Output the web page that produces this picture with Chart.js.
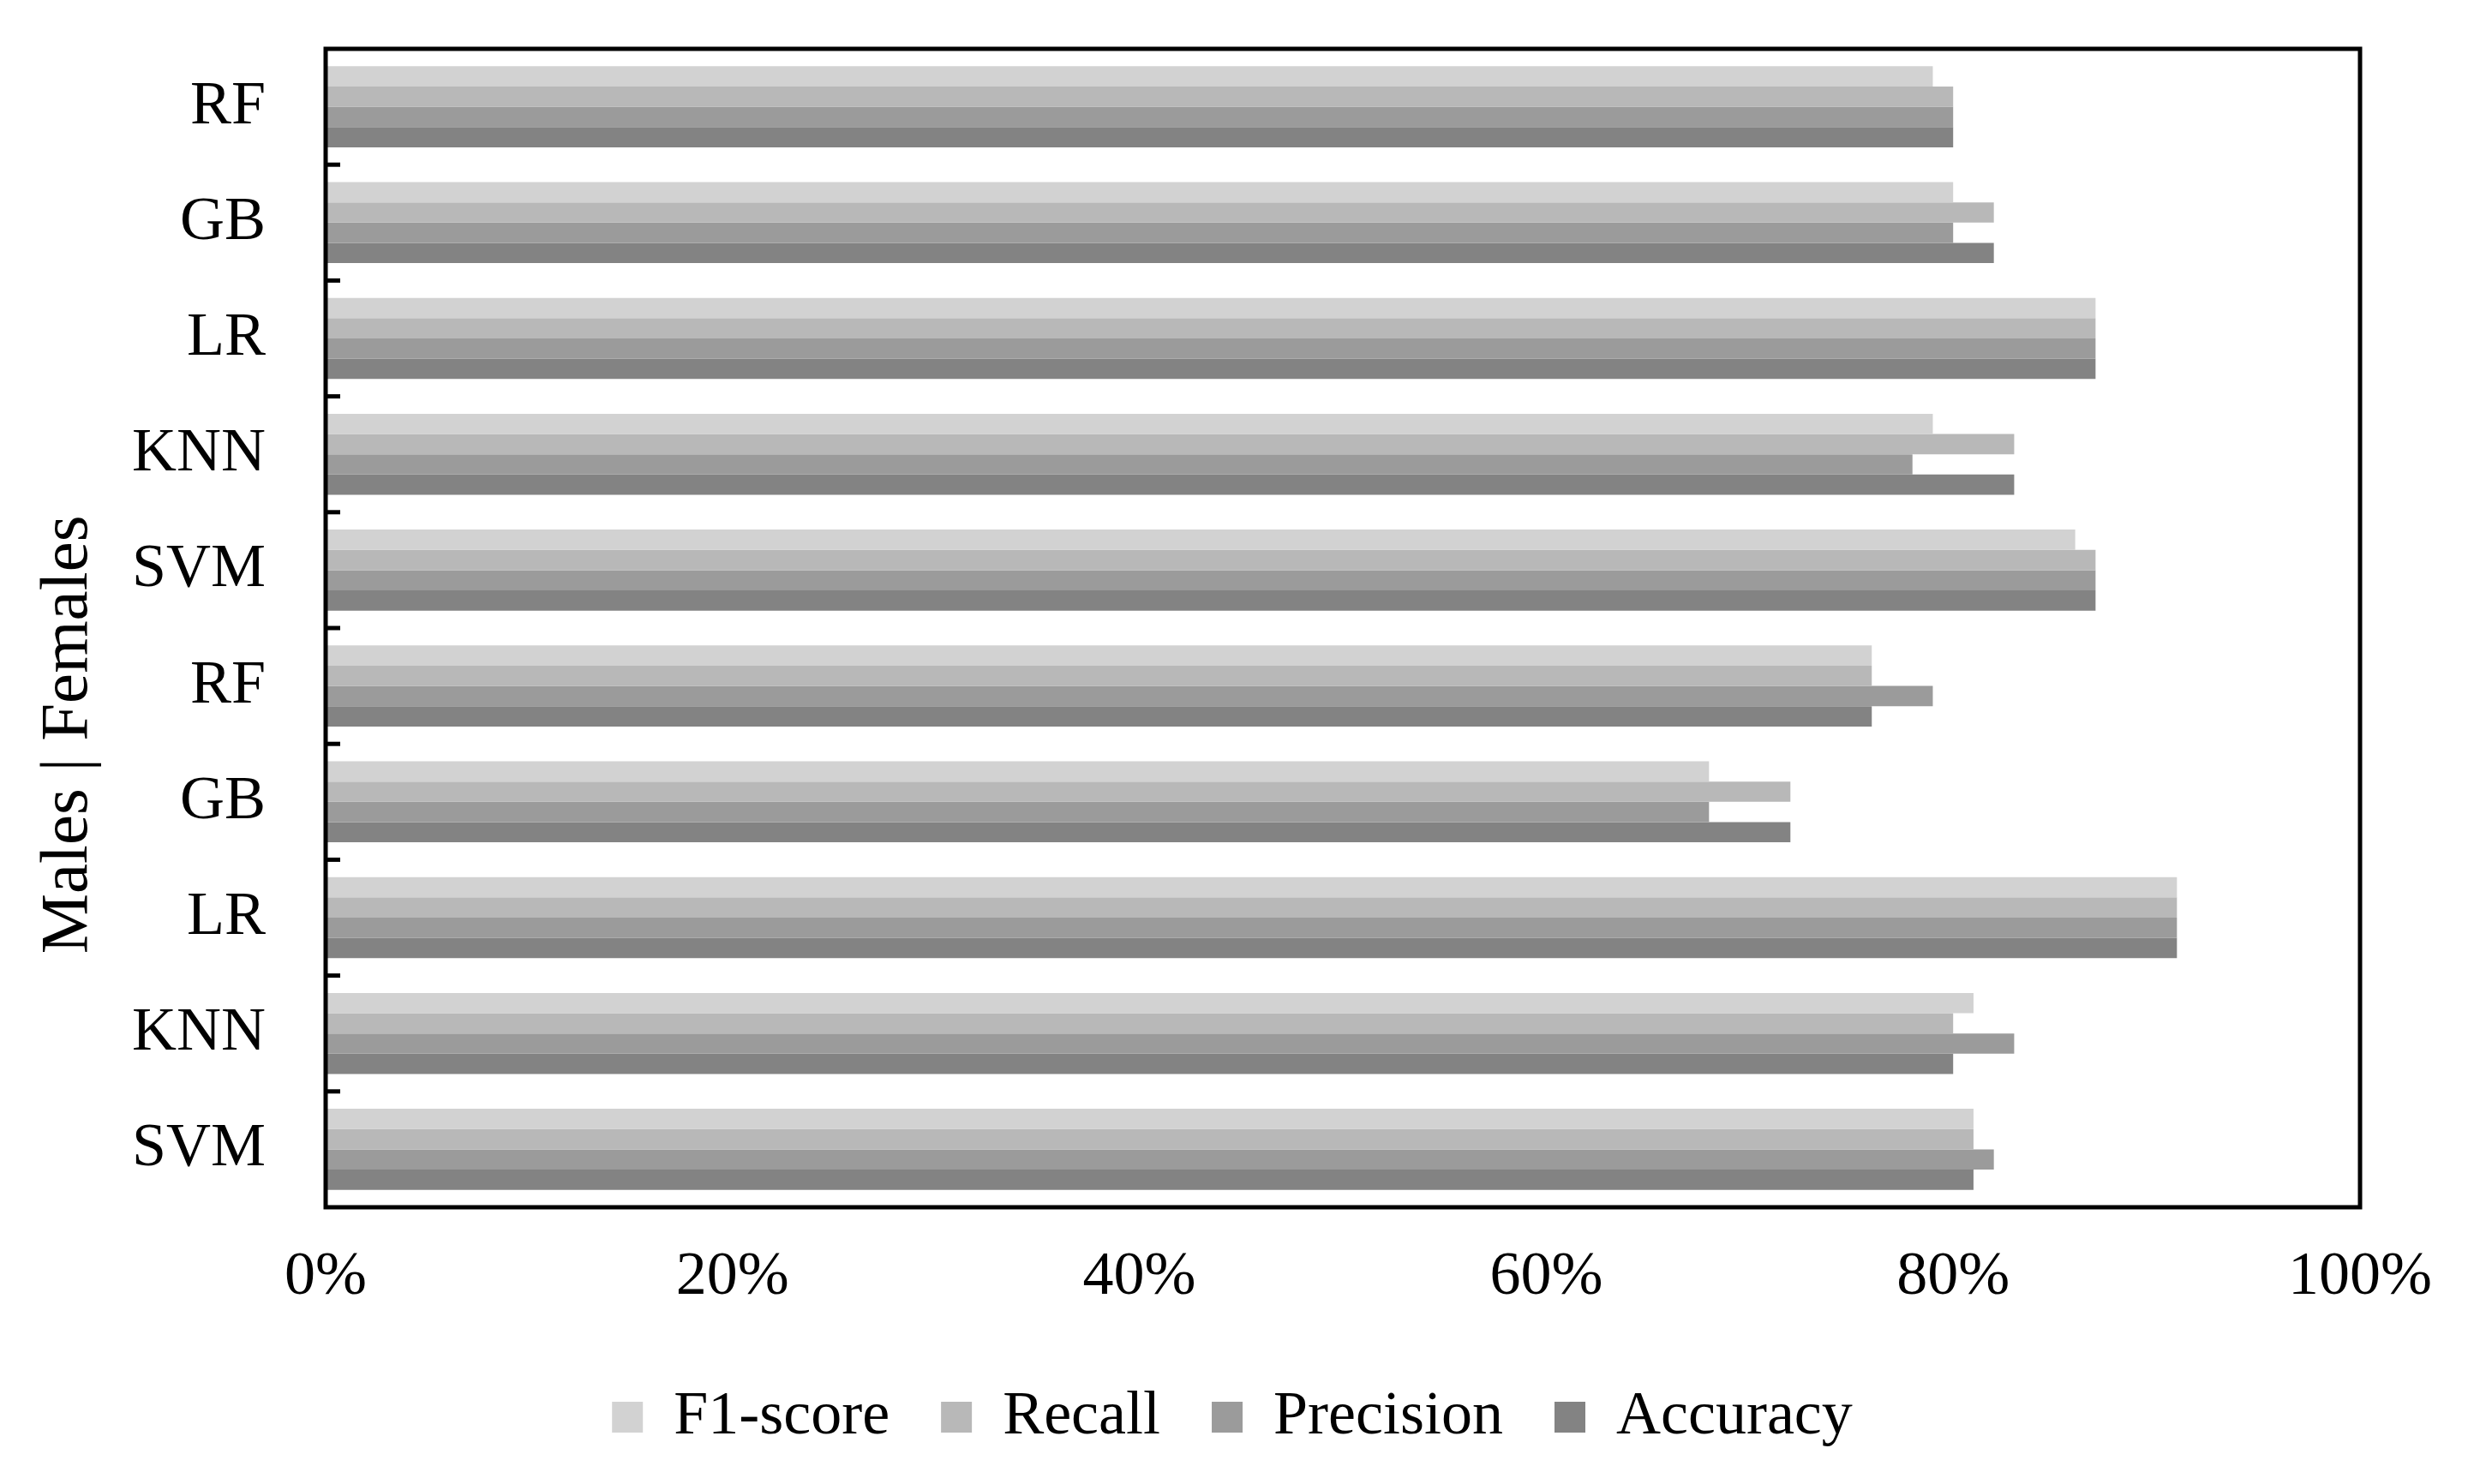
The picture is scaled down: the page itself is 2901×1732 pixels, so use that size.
<!DOCTYPE html>
<html>
<head>
<meta charset="utf-8">
<script src="https://cdn.jsdelivr.net/npm/chart.js@4/dist/chart.umd.min.js"></script>
<style>
  html, body { margin: 0; padding: 0; background: #fff; }
  canvas { display: block; }
</style>
</head>
<body>
<canvas id="chart" width="2901" height="1732"></canvas>
<script>
// top five rows are females, bottom five are males
const models = ["RF", "GB", "LR", "KNN", "SVM", "RF", "GB", "LR", "KNN", "SVM"];
const f1Score = [79, 80, 87, 79, 86, 76, 68, 91, 81, 81];
const recall = [80, 82, 87, 83, 87, 76, 72, 91, 80, 81];
const precision = [80, 80, 87, 78, 87, 79, 68, 91, 83, 82];
const accuracy = [80, 82, 87, 83, 87, 76, 72, 91, 80, 81];
const xTicks = [0, 20, 40, 60, 80, 100];
const axisTitle = "Males | Females";

const serif = "'Liberation Serif', 'Times New Roman', serif";

// frame + small inward ticks between categories + rotated axis title
const framePlugin = {
  id: "frame",
  afterDraw(chart) {
    const { ctx, chartArea } = chart;
    const y = chart.scales.y;
    ctx.save();
    ctx.strokeStyle = "#000";
    ctx.lineWidth = 5;
    ctx.strokeRect(chartArea.left, chartArea.top, chartArea.right - chartArea.left, chartArea.bottom - chartArea.top);

    const n = models.length;
    for (let i = 1; i < n; i++) {
      const yy = (y.getPixelForValue(i - 1) + y.getPixelForValue(i)) / 2;
      ctx.beginPath();
      ctx.moveTo(chartArea.left, yy);
      ctx.lineTo(chartArea.left + 17, yy);
      ctx.stroke();
    }

    ctx.fillStyle = "#000";
    ctx.font = "79px " + serif;
    ctx.textAlign = "center";
    ctx.textBaseline = "middle";
    ctx.translate(80, chartArea.top + 0.592 * (chartArea.bottom - chartArea.top));
    ctx.rotate(-Math.PI / 2);
    ctx.fillText(axisTitle, 0, 0);
    ctx.restore();
  },
};

const ctx = document.getElementById("chart").getContext("2d");
new Chart(ctx, {
  type: "bar",
  data: {
    labels: models,
    datasets: [
      { label: "F1-score", data: f1Score, backgroundColor: "#d2d2d2" },
      { label: "Recall", data: recall, backgroundColor: "#b8b8b8" },
      { label: "Precision", data: precision, backgroundColor: "#9b9b9b" },
      { label: "Accuracy", data: accuracy, backgroundColor: "#838383" },
    ],
  },
  options: {
    indexAxis: "y",
    responsive: false,
    devicePixelRatio: 1,
    animation: false,
    datasets: {
      bar: { categoryPercentage: 0.7, barPercentage: 1.0, borderWidth: 0 },
    },
    layout: { padding: { top: 57, right: 147, left: 122, bottom: 32 } },
    scales: {
      x: {
        min: 0,
        max: 100,
        afterBuildTicks(scale) {
          scale.ticks = xTicks.map((v) => ({ value: v }));
        },
        afterFit(scale) { scale.height = 149; },
        grid: { display: false, drawTicks: false },
        border: { display: false },
        ticks: {
          padding: 39,
          color: "#000",
          font: { family: serif, size: 72 },
          callback: (v) => v + "%",
        },
      },
      y: {
        afterFit(scale) {
          scale.width = 258;
          scale.paddingTop = 0;
          scale.paddingBottom = 0;
        },
        grid: { display: false, drawTicks: false },
        border: { display: false },
        ticks: {
          padding: 70,
          color: "#000",
          font: { family: serif, size: 72 },
        },
      },
    },
    plugins: {
      tooltip: { enabled: false },
      legend: {
        position: "bottom",
        labels: {
          boxWidth: 36,
          boxHeight: 36,
          padding: 60,
          color: "#000",
          font: { family: serif, size: 72 },
        },
      },
    },
  },
  plugins: [framePlugin],
});
</script>
</body>
</html>
